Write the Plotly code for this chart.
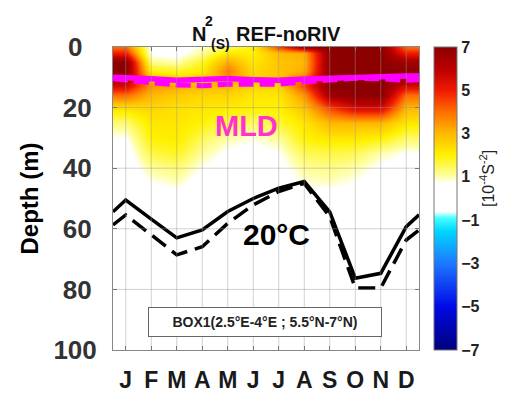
import plotly.graph_objects as go

# ---------------- data ----------------
months = [1, 2, 3, 4, 5, 6, 7, 8, 9, 10, 11, 12]
month_labels = ["J", "F", "M", "A", "M", "J", "J", "A", "S", "O", "N", "D"]
depths = [0, 2, 5, 8, 10, 13, 16, 20, 25, 30, 35, 40, 45, 50, 60, 70, 80, 90, 100]

# N2 (10^-4 s^-2), rows = depth, cols = month (J..D)
n2 = [
    [4.0, 0.6, 0.4, 0.9, 1.5, 2.0, 4.5, 6.5, 7.0, 7.0, 7.0, 4.0],   # 0
    [5.0, 0.6, 0.5, 1.1, 2.2, 2.0, 3.0, 3.2, 7.0, 7.0, 7.0, 5.0],   # 2
    [7.0, 1.2, 1.0, 1.8, 3.2, 2.2, 2.8, 3.0, 7.0, 7.0, 7.0, 6.5],   # 5
    [7.0, 2.0, 1.8, 2.1, 3.8, 2.4, 2.8, 3.2, 7.0, 7.0, 7.0, 7.0],   # 8
    [6.5, 2.8, 2.4, 2.5, 3.5, 2.5, 2.8, 3.8, 7.0, 7.0, 7.0, 7.0],   # 10
    [5.5, 3.5, 3.2, 3.0, 3.0, 2.5, 2.5, 4.5, 7.0, 7.0, 7.0, 5.5],   # 13
    [4.0, 3.0, 2.7, 2.5, 2.5, 2.2, 2.2, 3.5, 6.5, 7.0, 7.0, 4.0],   # 16
    [2.3, 2.5, 2.3, 2.2, 2.1, 2.0, 2.0, 2.8, 4.5, 5.5, 5.5, 3.0],   # 20
    [1.3, 2.2, 2.2, 2.0, 1.5, 1.4, 1.7, 2.2, 3.0, 3.0, 3.0, 2.2],   # 25
    [0.7, 2.0, 2.1, 1.5, 1.0, 0.8, 1.1, 2.0, 2.2, 2.2, 2.0, 1.4],   # 30
    [0.4, 1.6, 1.8, 1.1, 0.6, 0.5, 0.7, 1.5, 1.6, 1.5, 1.0, 0.7],   # 35
    [0.3, 1.1, 1.3, 0.7, 0.4, 0.3, 0.5, 1.1, 1.2, 1.0, 0.6, 0.4],   # 40
    [0.2, 0.7, 0.9, 0.4, 0.2, 0.2, 0.3, 0.8, 0.9, 0.7, 0.4, 0.2],   # 45
    [0.1, 0.3, 0.4, 0.2, 0.1, 0.1, 0.2, 0.3, 0.3, 0.3, 0.2, 0.1],   # 50
    [0.1, 0.1, 0.1, 0.1, 0.1, 0.1, 0.1, 0.1, 0.1, 0.1, 0.1, 0.1],   # 60
    [0.1, 0.1, 0.1, 0.1, 0.1, 0.1, 0.1, 0.1, 0.1, 0.1, 0.1, 0.1],   # 70
    [0.1, 0.1, 0.1, 0.1, 0.1, 0.1, 0.1, 0.1, 0.1, 0.1, 0.1, 0.1],   # 80
    [0.1, 0.1, 0.1, 0.1, 0.1, 0.1, 0.1, 0.1, 0.1, 0.1, 0.1, 0.1],   # 90
    [0.1, 0.1, 0.1, 0.1, 0.1, 0.1, 0.1, 0.1, 0.1, 0.1, 0.1, 0.1],   # 100
]

# lines: months extended to the plot edges (cyclic)
months_ext = [0.5, 1, 2, 3, 4, 5, 6, 7, 8, 9, 10, 11, 12, 12.5]
iso20_ref = [54.4, 50.5, 56.8, 63.0, 60.4, 54.3, 50.0, 46.6, 44.4, 54.4, 76.3, 74.7, 59.3, 55.4]
iso20_norivers = [58.7, 55.4, 62.0, 68.6, 65.9, 58.2, 52.1, 47.7, 45.0, 56.0, 79.5, 79.5, 63.7, 60.4]
mld_ref = [10.0, 10.1, 10.5, 11.0, 10.8, 10.4, 10.8, 11.0, 10.6, 10.2, 10.0, 9.8, 9.6, 9.6]
mld_norivers = [10.5, 10.8, 11.8, 12.5, 12.8, 12.3, 12.5, 12.3, 11.5, 10.8, 10.3, 10.5, 11.0, 10.8]

cbar_ticks = [-7, -5, -3, -1, 1, 3, 5, 7]
depth_ticks = [0, 20, 40, 60, 80, 100]
depth_ticktext = ["0\u2007", "20\u2009", "40\u2009", "60\u2009", "80\u2009", "100"]

# ---------------- figure ----------------
def t(v):
    return (v + 7) / 14.0

colorscale = [
    [t(-7), "rgb(0,0,125)"],
    [t(-5), "rgb(0,10,230)"],
    [t(-3), "rgb(30,120,255)"],
    [t(-1.5), "rgb(0,215,255)"],
    [t(-0.9), "rgb(70,255,255)"],
    [t(-0.6), "rgb(255,255,255)"],
    [t(0.7), "rgb(255,255,255)"],
    [t(1.0), "rgb(255,255,170)"],
    [t(2.0), "rgb(255,242,0)"],
    [t(3.0), "rgb(255,185,0)"],
    [t(4.0), "rgb(255,110,0)"],
    [t(5.0), "rgb(240,25,0)"],
    [t(6.0), "rgb(185,0,0)"],
    [t(7), "rgb(140,0,0)"],
]

FONT = "Liberation Sans, Arial, sans-serif"

fig = go.Figure()
fig.add_trace(go.Heatmap(
    x=months, y=depths, z=n2, zmin=-7, zmax=7, zsmooth="best",
    colorscale=colorscale, hoverinfo="skip",
    colorbar=dict(
        x=1.049, xanchor="left", y=0.5, yanchor="middle", len=1, lenmode="fraction",
        thickness=23, thicknessmode="pixels", xpad=0, ypad=0,
        outlinewidth=1, outlinecolor="#777",
        tickvals=cbar_ticks, ticks="", ticklabelposition="outside",
        tickfont=dict(family=FONT, size=16, color="#222", weight="bold"),
    ),
))

# 20C isotherm
fig.add_trace(go.Scatter(x=months_ext, y=iso20_norivers, mode="lines",
                         line=dict(color="black", width=3.5, dash="17px,8px"), hoverinfo="skip"))
fig.add_trace(go.Scatter(x=months_ext, y=iso20_ref, mode="lines",
                         line=dict(color="black", width=3.5), hoverinfo="skip"))
# MLD
fig.add_trace(go.Scatter(x=months_ext, y=mld_norivers, mode="lines",
                         line=dict(color="#FF00FF", width=5, dash="15px,6px"), hoverinfo="skip"))
fig.add_trace(go.Scatter(x=months_ext, y=mld_ref, mode="lines",
                         line=dict(color="#FF00FF", width=5.5), hoverinfo="skip"))

# grid drawn above the field
grid_col = "rgba(150,150,150,0.45)"
shapes = []
for m in months:
    shapes.append(dict(type="line", xref="x", yref="y", x0=m, x1=m, y0=0, y1=100,
                       line=dict(color=grid_col, width=1), layer="above"))
for d in depth_ticks[1:-1]:
    shapes.append(dict(type="line", xref="x", yref="y", x0=0.5, x1=12.5, y0=d, y1=d,
                       line=dict(color=grid_col, width=1), layer="above"))

L, R, T, B = 113, 93, 47, 43
W, H = 512, 393
pw, ph = W - L - R, H - T - B

def px(xp):
    return (xp - L) / pw

def py(yp):
    return (H - B - yp) / ph

annotations = [
    dict(text="N", x=px(190), y=py(21), xref="paper", yref="paper", showarrow=False,
         font=dict(family=FONT, size=20, color="#111", weight="bold")),
    dict(text="2", x=px(203), y=py(11), xref="paper", yref="paper", showarrow=False,
         font=dict(family=FONT, size=14, color="#111", weight="bold")),
    dict(text="(S)", x=px(209), y=py(34), xref="paper", yref="paper", showarrow=False,
         font=dict(family=FONT, size=14, color="#111", weight="bold")),
    dict(text="REF-noRIV", x=px(288), y=py(21), xref="paper", yref="paper", showarrow=False,
         font=dict(family=FONT, size=20, color="#111", weight="bold")),
    dict(text="MLD", x=px(213), y=py(108), xref="paper", yref="paper", showarrow=False,
         font=dict(family=FONT, size=29, color="#FF33CC", weight="bold")),
    dict(text="20°C", x=px(276), y=py(234), xref="paper", yref="paper", showarrow=False,
         font=dict(family=FONT, size=30, color="black", weight="bold")),
    dict(text="BOX1(2.5°E-4°E ; 5.5°N-7°N)", x=px(264.5), y=py(337), xref="paper", yref="paper",
         showarrow=False, width=230, height=26, bordercolor="#666", borderwidth=1,
         bgcolor="white", borderpad=1,
         font=dict(family=FONT, size=14, color="#222", weight="bold")),
    dict(text="[10<sup>-4</sup>S<sup>-2</sup>]", x=px(499), y=py(179), xref="paper", yref="paper",
         showarrow=False, textangle=-90,
         font=dict(family=FONT, size=16, color="#222")),
]

fig.update_layout(
    width=W, height=H,
    margin=dict(l=L, r=R, t=T, b=B, pad=0),
    paper_bgcolor="white", plot_bgcolor="white",
    showlegend=False,
    shapes=shapes, annotations=annotations,
    xaxis=dict(range=[0.5, 12.5], tickvals=months, ticktext=month_labels,
               showgrid=False, zeroline=False, showline=True, linecolor="#888", linewidth=1,
               mirror="allticks", ticks="inside", ticklen=4, tickcolor="#666",
               ticklabelstandoff=9, automargin=False,
               tickfont=dict(family=FONT, size=23, color="#1a1a1a", weight="bold")),
    yaxis=dict(range=[100, 0], tickvals=depth_ticks, ticktext=depth_ticktext,
               showgrid=False, zeroline=False, showline=True, linecolor="#888", linewidth=1,
               mirror="allticks", ticks="inside", ticklen=4, tickcolor="#666",
               ticklabelstandoff=10, automargin=False,
               tickfont=dict(family=FONT, size=26, color="#333", weight="bold"),
               title=dict(text="Depth (m)", standoff=8,
                          font=dict(family=FONT, size=24, color="black", weight="bold"))),
)

fig.write_html("out.html")
